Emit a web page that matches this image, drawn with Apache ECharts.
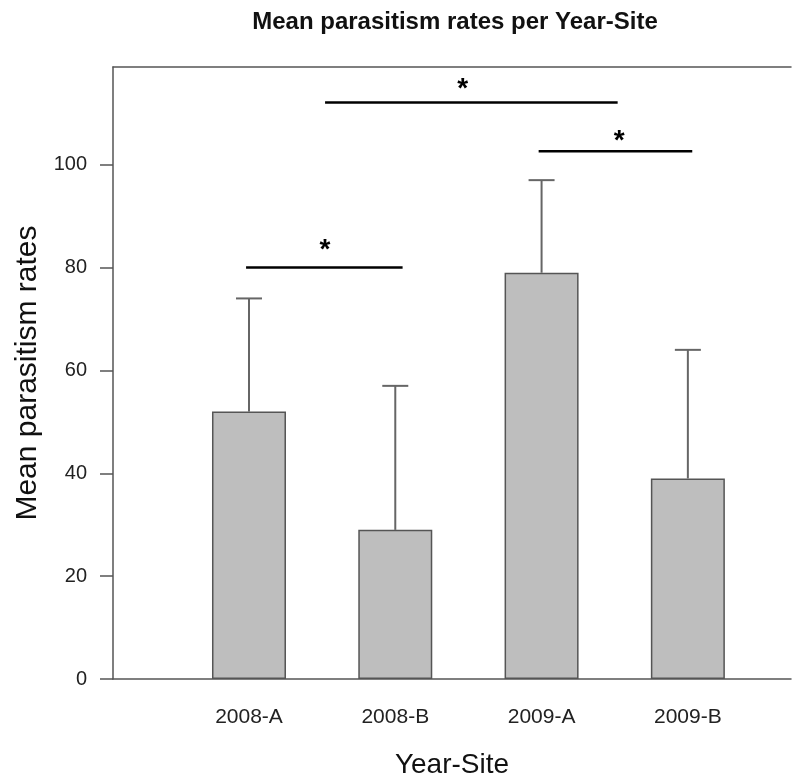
<!DOCTYPE html>
<html>
<head>
<meta charset="utf-8">
<script src="https://cdn.jsdelivr.net/npm/echarts@6/dist/echarts.min.js"></script>
<style>html,body{margin:0;padding:0;background:#fff}#c{width:792px;height:784px}</style>
</head>
<body>
<div id="c"></div>
<script>
// ---- data ----
var categories = ['2008-A', '2008-B', '2009-A', '2009-B'];
var catPositions = [1, 2, 3, 4];
var meanRates = [52, 29, 79, 39];
var errorUpper = [74, 57, 97, 64];
var yTicks = [0, 20, 40, 60, 80, 100];
// significance brackets: [from x, to x, y]
var bracketFrom = [0.98, 1.52, 2.98];
var bracketTo = [2.05, 3.52, 4.03];
var bracketY = [80, 112.1, 102.6];
// stars: [x, y]
var starX = [1.52, 2.46, 3.53];
var starY = [84.7, 116, 105.9];
var xMin = 0.0704, xMax = 4.705, yMin = 0, yMax = 119;

var FONT = '"Liberation Sans", Arial, sans-serif';
var AX = '#555';

var barData = catPositions.map(function (x, i) { return [x, meanRates[i]]; });
var errData = catPositions.map(function (x, i) { return [x, meanRates[i], errorUpper[i]]; });
var brData = bracketFrom.map(function (f, i) { return [f, bracketTo[i], bracketY[i]]; });
var starData = starX.map(function (x, i) { return [x, starY[i]]; });

var chart = echarts.init(document.getElementById('c'), null, { renderer: 'canvas' });
chart.setOption({
  backgroundColor: '#fff',
  animation: false,
  title: {
    text: 'Mean parasitism rates per Year-Site',
    left: 450, textAlign: 'center', top: 5,
    textStyle: { fontFamily: FONT, fontWeight: 'bold', fontSize: 24, color: '#111' }
  },
  grid: { left: 113, top: 67, width: 678, height: 619 },
  xAxis: [{
    type: 'value', min: xMin, max: xMax,
    name: 'Year-Site', nameLocation: 'middle', nameGap: 72,
    nameTextStyle: { fontFamily: FONT, fontSize: 28, color: '#111' },
    axisLine: { show: true, lineStyle: { color: AX, width: 1.5 } },
    axisTick: { show: false },
    splitLine: { show: false },
    axisLabel: {
      customValues: catPositions, margin: 28,
      fontFamily: FONT, fontSize: 21, color: '#222',
      formatter: function (v) { var i = catPositions.indexOf(v); return i >= 0 ? categories[i] : ''; }
    }
  }, {
    type: 'value', min: xMin, max: xMax, position: 'top',
    axisLine: { show: true, onZero: false, lineStyle: { color: AX, width: 1.5 } },
    axisTick: { show: false }, axisLabel: { show: false }, splitLine: { show: false }
  }],
  yAxis: {
    type: 'value', min: yMin, max: yMax,
    name: 'Mean parasitism rates', nameLocation: 'middle', nameGap: 66,
    nameTextStyle: { fontFamily: FONT, fontSize: 30, color: '#111' },
    axisLine: { show: true, lineStyle: { color: AX, width: 1.5 } },
    axisTick: { show: true, inside: false, length: 13, customValues: yTicks, lineStyle: { color: AX, width: 1.5 } },
    splitLine: { show: false },
    axisLabel: { customValues: yTicks, margin: 26, fontFamily: FONT, fontSize: 20, color: '#222' }
  },
  series: [{
    type: 'bar', data: barData, barWidth: 74,
    itemStyle: { color: '#bebebe', borderColor: '#555', borderWidth: 1.5 }
  }, {
    type: 'custom', data: errData, encode: { x: 0, y: [1, 2] },
    renderItem: function (params, api) {
      var b = api.coord([api.value(0), api.value(1)]);
      var t = api.coord([api.value(0), api.value(2)]);
      var st = { stroke: '#666', lineWidth: 2 };
      return { type: 'group', children: [
        { type: 'line', shape: { x1: b[0], y1: b[1], x2: t[0], y2: t[1] }, style: st },
        { type: 'line', shape: { x1: t[0] - 13, y1: t[1], x2: t[0] + 13, y2: t[1] }, style: st }
      ] };
    }
  }, {
    type: 'custom', data: brData, encode: { x: [0, 1], y: 2 },
    renderItem: function (params, api) {
      var a = api.coord([api.value(0), api.value(2)]);
      var b = api.coord([api.value(1), api.value(2)]);
      return { type: 'line', shape: { x1: a[0], y1: a[1], x2: b[0], y2: b[1] }, style: { stroke: '#000', lineWidth: 2.5 } };
    }
  }, {
    type: 'custom', data: starData, encode: { x: 0, y: 1 },
    renderItem: function (params, api) {
      var p = api.coord([api.value(0), api.value(1)]);
      return { type: 'text', x: p[0], y: p[1] + 7, style: { text: '*', fill: '#000', font: 'bold 28px "Liberation Sans", Arial, sans-serif', align: 'center', verticalAlign: 'middle' } };
    }
  }]
});
</script>
</body>
</html>
